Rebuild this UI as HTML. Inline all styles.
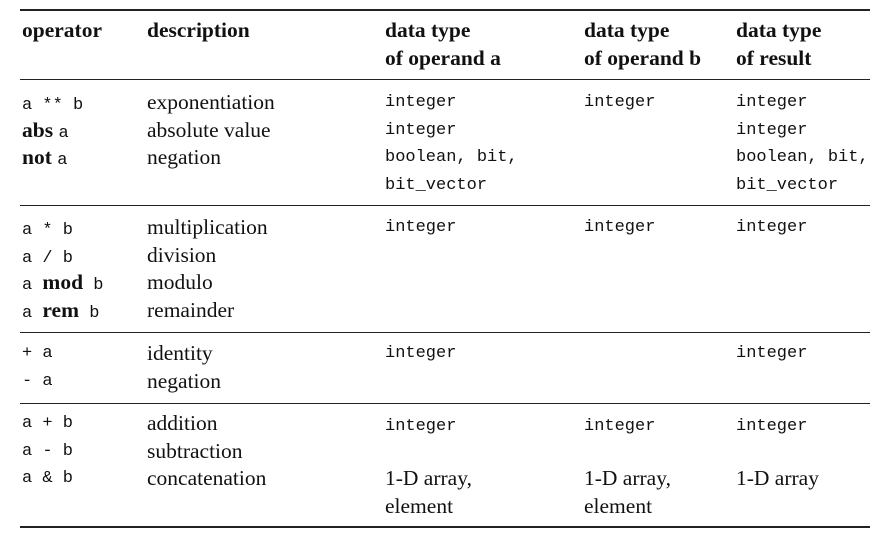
<!DOCTYPE html>
<html><head><meta charset="utf-8"><style>
body{margin:0;width:884px;height:533px;background:#fff;position:relative;overflow:hidden;color:#111}
.t{position:absolute;white-space:nowrap;font-family:"Liberation Serif",serif;font-size:21.5px}
.t div{height:27.5px;line-height:27.5px;overflow:visible}
.m{font-family:"Liberation Mono",monospace;font-size:17px}
.b{font-weight:bold}
.r{position:absolute;left:20px;width:850px;background:#222}
</style></head><body>
<div class="r" style="top:9px;height:2px"></div>
<div class="r" style="top:79px;height:1px"></div>
<div class="r" style="top:205px;height:1px"></div>
<div class="r" style="top:332px;height:1px"></div>
<div class="r" style="top:403px;height:1px"></div>
<div class="r" style="top:526px;height:2px"></div>

<div class="t b" style="left:22px;top:17px"><div>operator</div></div>
<div class="t b" style="left:147px;top:17px"><div>description</div></div>
<div class="t b" style="left:385px;top:17px"><div>data type</div><div>of operand a</div></div>
<div class="t b" style="left:584px;top:17px"><div>data type</div><div>of operand b</div></div>
<div class="t b" style="left:736px;top:17px"><div>data type</div><div>of result</div></div>

<div class="t" style="left:22px;top:89px"><div><span class="m">a ** b</span></div><div><span class="b">abs</span> <span class="m">a</span></div><div><span class="b">not</span> <span class="m">a</span></div></div>
<div class="t" style="left:147px;top:89px"><div>exponentiation</div><div>absolute value</div><div>negation</div></div>
<div class="t m" style="left:385px;top:89px"><div>integer</div><div>integer</div><div>boolean, bit,</div><div>bit_vector</div></div>
<div class="t m" style="left:584px;top:89px"><div>integer</div></div>
<div class="t m" style="left:736px;top:89px"><div>integer</div><div>integer</div><div>boolean, bit,</div><div>bit_vector</div></div>

<div class="t" style="left:22px;top:214px"><div><span class="m">a * b</span></div><div><span class="m">a / b</span></div><div><span class="m">a </span><span class="b">mod</span><span class="m"> b</span></div><div><span class="m">a </span><span class="b">rem</span><span class="m"> b</span></div></div>
<div class="t" style="left:147px;top:214px"><div>multiplication</div><div>division</div><div>modulo</div><div>remainder</div></div>
<div class="t m" style="left:385px;top:214px"><div>integer</div></div>
<div class="t m" style="left:584px;top:214px"><div>integer</div></div>
<div class="t m" style="left:736px;top:214px"><div>integer</div></div>

<div class="t m" style="left:22px;top:340px"><div>+ a</div><div>- a</div></div>
<div class="t" style="left:147px;top:340px"><div>identity</div><div>negation</div></div>
<div class="t m" style="left:385px;top:340px"><div>integer</div></div>
<div class="t m" style="left:736px;top:340px"><div>integer</div></div>

<div class="t m" style="left:22px;top:410px"><div>a + b</div><div>a - b</div><div>a &amp; b</div></div>
<div class="t" style="left:147px;top:410px"><div>addition</div><div>subtraction</div><div>concatenation</div></div>
<div class="t" style="left:385px;top:410px"><div><span class="m">integer</span></div><div></div><div>1-D array,</div><div>element</div></div>
<div class="t" style="left:584px;top:410px"><div><span class="m">integer</span></div><div></div><div>1-D array,</div><div>element</div></div>
<div class="t" style="left:736px;top:410px"><div><span class="m">integer</span></div><div></div><div>1-D array</div></div>
</body></html>
